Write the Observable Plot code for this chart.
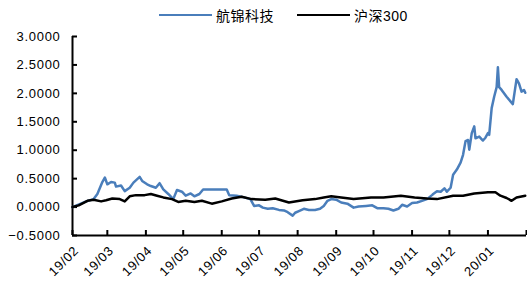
<!DOCTYPE html>
<html><head><meta charset="utf-8">
<script src="https://cdn.jsdelivr.net/npm/d3@7"></script>
<script src="https://cdn.jsdelivr.net/npm/@observablehq/plot@0.6"></script>
<style>
body{margin:0;background:#fff;font-family:"Liberation Sans","Noto Sans CJK SC",sans-serif;}
#wrap{position:relative;width:527px;height:282px;overflow:hidden;}
#legend{position:relative;height:28px;width:527px;font-size:14px;color:#000;letter-spacing:0.5px;}
.item{position:absolute;top:6px;display:flex;align-items:center;height:18px;}
.swatch{display:inline-block;width:53px;height:0;border-top:2.5px solid;margin-right:4px;}
#chart svg text{letter-spacing:0.7px;}
</style>
</head><body>
<div id="wrap">
  <div id="legend"></div>
  <div id="chart"></div>
</div>
<script>
const seriesNames = ["航锦科技", "沪深300"];
const seriesColors = ["#4a7ebb", "#000000"];

const hjDates = ["2019-02-01","2019-02-12","2019-02-18","2019-02-21","2019-02-25","2019-02-27","2019-03-01","2019-03-04","2019-03-07","2019-03-08","2019-03-12","2019-03-15","2019-03-19","2019-03-22","2019-03-27","2019-03-29","2019-04-02","2019-04-05","2019-04-09","2019-04-12","2019-04-15","2019-04-19","2019-04-23","2019-04-26","2019-04-30","2019-05-03","2019-05-07","2019-05-10","2019-05-14","2019-05-17","2019-06-05","2019-06-07","2019-06-13","2019-06-19","2019-06-24","2019-06-27","2019-07-01","2019-07-04","2019-07-08","2019-07-12","2019-07-17","2019-07-21","2019-07-24","2019-07-28","2019-07-30","2019-08-02","2019-08-06","2019-08-10","2019-08-15","2019-08-19","2019-08-22","2019-08-25","2019-08-28","2019-09-01","2019-09-05","2019-09-10","2019-09-15","2019-09-19","2019-09-25","2019-09-30","2019-10-04","2019-10-09","2019-10-13","2019-10-17","2019-10-21","2019-10-24","2019-10-28","2019-11-01","2019-11-05","2019-11-09","2019-11-13","2019-11-17","2019-11-18","2019-11-21","2019-11-24","2019-11-27","2019-11-29","2019-12-02","2019-12-04","2019-12-07","2019-12-10","2019-12-12","2019-12-14","2019-12-16","2019-12-17","2019-12-19","2019-12-21","2019-12-22","2019-12-25","2019-12-28","2019-12-30","2020-01-01","2020-01-02","2020-01-04","2020-01-06","2020-01-08","2020-01-09","2020-01-10","2020-01-12","2020-01-16","2020-01-21","2020-01-24","2020-01-26","2020-01-28","2020-01-30","2020-01-31"];
const hjValues = [0.00,0.10,0.14,0.23,0.44,0.52,0.40,0.44,0.43,0.36,0.38,0.28,0.34,0.43,0.53,0.46,0.40,0.37,0.34,0.42,0.31,0.23,0.14,0.30,0.27,0.20,0.24,0.19,0.23,0.31,0.31,0.21,0.20,0.17,0.14,0.02,0.03,-0.01,-0.03,-0.02,-0.05,-0.06,-0.09,-0.15,-0.10,-0.07,-0.03,-0.05,-0.05,-0.03,0.02,0.11,0.14,0.13,0.08,0.06,-0.01,0.01,0.02,0.03,-0.02,-0.02,-0.03,-0.06,-0.03,0.04,0.01,0.07,0.08,0.11,0.14,0.21,0.23,0.28,0.27,0.33,0.27,0.34,0.57,0.66,0.78,0.92,1.16,1.18,1.01,1.30,1.42,1.21,1.24,1.17,1.22,1.30,1.27,1.74,1.94,2.11,2.46,2.11,2.06,1.94,1.81,2.25,2.17,2.03,2.06,2.01];

const hsDates = ["2019-02-01","2019-02-06","2019-02-13","2019-02-18","2019-02-24","2019-02-28","2019-03-05","2019-03-11","2019-03-15","2019-03-19","2019-03-24","2019-03-31","2019-04-05","2019-04-10","2019-04-15","2019-04-22","2019-04-27","2019-05-03","2019-05-10","2019-05-16","2019-05-24","2019-06-01","2019-06-09","2019-06-17","2019-06-25","2019-07-06","2019-07-14","2019-07-25","2019-08-05","2019-08-15","2019-08-22","2019-08-28","2019-09-05","2019-09-15","2019-09-29","2019-10-09","2019-10-23","2019-11-03","2019-11-13","2019-11-21","2019-12-04","2019-12-12","2019-12-21","2020-01-01","2020-01-07","2020-01-11","2020-01-16","2020-01-20","2020-01-24","2020-01-31"];
const hsValues = [0.00,0.03,0.11,0.13,0.10,0.12,0.15,0.14,0.10,0.19,0.21,0.21,0.23,0.20,0.17,0.14,0.09,0.11,0.09,0.11,0.06,0.10,0.15,0.18,0.14,0.13,0.15,0.08,0.12,0.14,0.17,0.19,0.17,0.14,0.17,0.17,0.20,0.17,0.15,0.14,0.20,0.20,0.24,0.26,0.26,0.20,0.16,0.11,0.17,0.20];

const monthStarts = ["2019-02-01","2019-03-01","2019-04-01","2019-05-01","2019-06-01","2019-07-01","2019-08-01","2019-09-01","2019-10-01","2019-11-01","2019-12-01","2020-01-01","2020-02-01"];
const tickLabels = ["19/02","19/03","19/04","19/05","19/06","19/07","19/08","19/09","19/10","19/11","19/12","20/01"];
const yTicks = [-0.5, 0, 0.5, 1, 1.5, 2, 2.5, 3];

const parse = s => new Date(s + "T00:00:00Z");
const hj = hjDates.map((d, i) => ({date: parse(d), value: hjValues[i]}));
const hs = hsDates.map((d, i) => ({date: parse(d), value: hsValues[i]}));
const tickDates = monthStarts.map(parse);
const labelDates = tickDates.slice(0, tickLabels.length);
const labelMap = new Map(labelDates.map((d, i) => [+d, tickLabels[i]]));

// legend
const legend = document.getElementById("legend");
const legendLeft = [159, 297];
seriesNames.forEach((name, i) => {
  const it = document.createElement("div");
  it.className = "item";
  it.style.left = legendLeft[i] + "px";
  const sw = document.createElement("span");
  sw.className = "swatch";
  sw.style.borderColor = seriesColors[i];
  const tx = document.createElement("span");
  tx.textContent = name;
  it.appendChild(sw); it.appendChild(tx);
  legend.appendChild(it);
});

const W = 527, H = 254, mT = 8, mL = 72, mR = 1, mB = 47;
const plotW = W - mL - mR, plotH = H - mT - mB, tickLen = 5;

const chart = Plot.plot({
  width: W,
  height: H,
  marginTop: mT,
  marginLeft: mL,
  marginRight: mR,
  marginBottom: mB,
  style: {fontFamily: "'Liberation Sans','Noto Sans CJK SC',sans-serif", fontSize: "13px", color: "#000", background: "#fff"},
  x: {type: "utc", domain: [tickDates[0], tickDates[tickDates.length - 1]]},
  y: {domain: [-0.5, 3]},
  marks: [
    Plot.axisY(yTicks, {tickSize: 0, tickPadding: 12, tickFormat: d3.format(".4f"), label: null, fontSize: 13}),
    Plot.axisX(labelDates, {tickSize: 0, tickPadding: 13, dx: 4, tickRotate: -45, tickFormat: d => labelMap.get(+d), label: null, fontSize: 13}),
    Plot.tickY(yTicks, {y: d => d, insetRight: plotW - tickLen, strokeWidth: 2}),
    Plot.tickX(tickDates, {x: d => d, insetTop: plotH - tickLen, strokeWidth: 2}),
    Plot.ruleX([tickDates[0]], {strokeWidth: 2}),
    Plot.ruleY([-0.5], {strokeWidth: 2}),
    Plot.line(hj, {x: "date", y: "value", stroke: seriesColors[0], strokeWidth: 2.5}),
    Plot.line(hs, {x: "date", y: "value", stroke: seriesColors[1], strokeWidth: 2.5})
  ]
});
document.getElementById("chart").appendChild(chart);
</script>
</body></html>
